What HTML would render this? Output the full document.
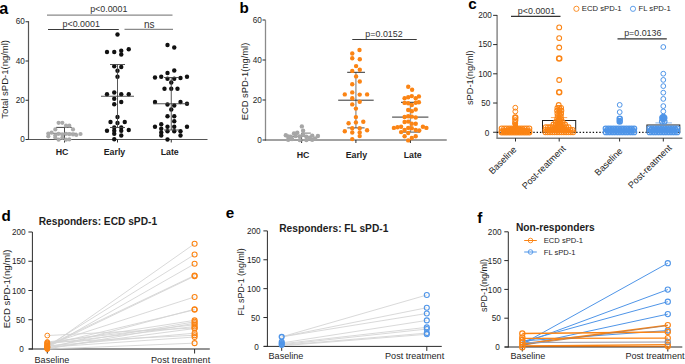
<!DOCTYPE html>
<html><head><meta charset="utf-8"><style>
html,body{margin:0;padding:0;background:#fff;width:685px;height:364px;overflow:hidden}
svg{display:block}
text{font-family:"Liberation Sans", sans-serif}
</style></head><body>
<svg width="685" height="364" viewBox="0 0 685 364">
<text x="-0.80" y="14.10" font-size="16.2" text-anchor="start" font-weight="bold" fill="#000" >a</text>
<line x1="28.50" y1="21.20" x2="28.50" y2="140.00" stroke="#555" stroke-width="1.2" />
<line x1="28.00" y1="139.50" x2="207.50" y2="139.50" stroke="#555" stroke-width="1.2" />
<line x1="25.50" y1="139.50" x2="28.50" y2="139.50" stroke="#2b2b2b" stroke-width="1" />
<text x="24.90" y="142.10" font-size="8.2" text-anchor="end" font-weight="normal" fill="#1e1e1e" >0</text>
<line x1="25.50" y1="100.25" x2="28.50" y2="100.25" stroke="#2b2b2b" stroke-width="1" />
<text x="24.90" y="102.85" font-size="8.2" text-anchor="end" font-weight="normal" fill="#1e1e1e" >20</text>
<line x1="25.50" y1="61.00" x2="28.50" y2="61.00" stroke="#2b2b2b" stroke-width="1" />
<text x="24.90" y="63.60" font-size="8.2" text-anchor="end" font-weight="normal" fill="#1e1e1e" >40</text>
<line x1="25.50" y1="21.75" x2="28.50" y2="21.75" stroke="#2b2b2b" stroke-width="1" />
<text x="24.90" y="24.35" font-size="8.2" text-anchor="end" font-weight="normal" fill="#1e1e1e" >60</text>
<line x1="64.50" y1="139.50" x2="64.50" y2="142.50" stroke="#2b2b2b" stroke-width="1" />
<line x1="117.50" y1="139.50" x2="117.50" y2="142.50" stroke="#2b2b2b" stroke-width="1" />
<line x1="171.25" y1="139.50" x2="171.25" y2="142.50" stroke="#2b2b2b" stroke-width="1" />
<text x="8.30" y="79.30" font-size="9.5" text-anchor="middle" fill="#1e1e1e" transform="rotate(-90 8.30 79.30)">Total sPD-1(ng/ml)</text>
<text x="62.10" y="155.00" font-size="8.8" text-anchor="middle" font-weight="bold" fill="#1e1e1e" >HC</text>
<text x="114.50" y="155.00" font-size="8.8" text-anchor="middle" font-weight="bold" fill="#1e1e1e" >Early</text>
<text x="169.70" y="155.00" font-size="8.8" text-anchor="middle" font-weight="bold" fill="#1e1e1e" >Late</text>
<line x1="47.00" y1="15.20" x2="172.50" y2="15.20" stroke="#8a8a8a" stroke-width="1.2" />
<text x="108.80" y="12.30" font-size="8.9" text-anchor="middle" font-weight="normal" fill="#333" >p&lt;0.0001</text>
<line x1="48.00" y1="29.50" x2="118.80" y2="29.50" stroke="#3a3a3a" stroke-width="1.2" />
<text x="81.20" y="26.80" font-size="8.9" text-anchor="middle" font-weight="normal" fill="#333" >p&lt;0.0001</text>
<line x1="124.50" y1="29.30" x2="173.00" y2="29.30" stroke="#8a8a8a" stroke-width="1.2" />
<text x="149.30" y="27.80" font-size="10" text-anchor="middle" font-weight="normal" fill="#333" >ns</text>
<line x1="64.50" y1="127.40" x2="64.50" y2="140.50" stroke="#444" stroke-width="1" />
<line x1="56.10" y1="127.40" x2="71.80" y2="127.40" stroke="#444" stroke-width="1" />
<line x1="53.00" y1="133.30" x2="77.00" y2="133.30" stroke="#555" stroke-width="0.9" />
<circle cx="58.60" cy="122.80" r="2.1" fill="#aaaaaa"/>
<circle cx="62.30" cy="122.80" r="2.1" fill="#aaaaaa"/>
<circle cx="66.00" cy="125.70" r="2.1" fill="#aaaaaa"/>
<circle cx="69.30" cy="125.70" r="2.1" fill="#aaaaaa"/>
<circle cx="55.30" cy="129.40" r="2.1" fill="#aaaaaa"/>
<circle cx="73.00" cy="129.40" r="2.1" fill="#aaaaaa"/>
<circle cx="48.30" cy="133.60" r="2.1" fill="#aaaaaa"/>
<circle cx="51.60" cy="132.70" r="2.1" fill="#aaaaaa"/>
<circle cx="48.30" cy="136.30" r="2.1" fill="#aaaaaa"/>
<circle cx="55.30" cy="135.30" r="2.1" fill="#aaaaaa"/>
<circle cx="58.60" cy="133.80" r="2.1" fill="#aaaaaa"/>
<circle cx="62.30" cy="134.60" r="2.1" fill="#aaaaaa"/>
<circle cx="66.00" cy="133.80" r="2.1" fill="#aaaaaa"/>
<circle cx="69.30" cy="134.20" r="2.1" fill="#aaaaaa"/>
<circle cx="73.00" cy="134.40" r="2.1" fill="#aaaaaa"/>
<circle cx="76.30" cy="135.00" r="2.1" fill="#aaaaaa"/>
<circle cx="80.50" cy="134.00" r="2.1" fill="#aaaaaa"/>
<circle cx="58.60" cy="139.70" r="2.1" fill="#aaaaaa"/>
<circle cx="62.30" cy="137.80" r="2.1" fill="#aaaaaa"/>
<circle cx="66.00" cy="139.70" r="2.1" fill="#aaaaaa"/>
<circle cx="69.30" cy="139.40" r="2.1" fill="#aaaaaa"/>
<circle cx="55.30" cy="137.50" r="2.1" fill="#aaaaaa"/>
<circle cx="117.50" cy="34.50" r="2.2" fill="#111"/>
<circle cx="107.00" cy="52.00" r="2.2" fill="#111"/>
<circle cx="114.25" cy="52.00" r="2.2" fill="#111"/>
<circle cx="121.25" cy="50.75" r="2.2" fill="#111"/>
<circle cx="121.25" cy="54.50" r="2.2" fill="#111"/>
<circle cx="128.75" cy="49.25" r="2.2" fill="#111"/>
<circle cx="114.25" cy="66.25" r="2.2" fill="#111"/>
<circle cx="121.25" cy="67.00" r="2.2" fill="#111"/>
<circle cx="117.50" cy="70.75" r="2.2" fill="#111"/>
<circle cx="117.50" cy="76.75" r="2.2" fill="#111"/>
<circle cx="107.00" cy="94.25" r="2.2" fill="#111"/>
<circle cx="114.25" cy="92.50" r="2.2" fill="#111"/>
<circle cx="121.25" cy="94.25" r="2.2" fill="#111"/>
<circle cx="128.75" cy="94.25" r="2.2" fill="#111"/>
<circle cx="114.25" cy="98.75" r="2.2" fill="#111"/>
<circle cx="114.25" cy="104.25" r="2.2" fill="#111"/>
<circle cx="121.25" cy="102.00" r="2.2" fill="#111"/>
<circle cx="117.50" cy="117.00" r="2.2" fill="#111"/>
<circle cx="110.50" cy="122.00" r="2.2" fill="#111"/>
<circle cx="117.50" cy="123.00" r="2.2" fill="#111"/>
<circle cx="124.75" cy="122.00" r="2.2" fill="#111"/>
<circle cx="114.25" cy="127.50" r="2.2" fill="#111"/>
<circle cx="121.25" cy="127.50" r="2.2" fill="#111"/>
<circle cx="107.00" cy="130.75" r="2.2" fill="#111"/>
<circle cx="114.25" cy="130.75" r="2.2" fill="#111"/>
<circle cx="121.25" cy="130.75" r="2.2" fill="#111"/>
<circle cx="128.75" cy="130.00" r="2.2" fill="#111"/>
<circle cx="114.25" cy="133.75" r="2.2" fill="#111"/>
<circle cx="121.25" cy="135.50" r="2.2" fill="#111"/>
<circle cx="114.25" cy="139.25" r="2.2" fill="#111"/>
<line x1="117.50" y1="64.50" x2="117.50" y2="127.50" stroke="#444" stroke-width="0.9" />
<line x1="110.00" y1="64.50" x2="125.00" y2="64.50" stroke="#444" stroke-width="0.9" />
<line x1="101.00" y1="96.25" x2="134.00" y2="96.25" stroke="#444" stroke-width="0.9" />
<line x1="110.00" y1="127.50" x2="125.00" y2="127.50" stroke="#444" stroke-width="0.9" />
<circle cx="167.50" cy="45.00" r="2.2" fill="#111"/>
<circle cx="174.25" cy="47.50" r="2.2" fill="#111"/>
<circle cx="167.50" cy="73.00" r="2.2" fill="#111"/>
<circle cx="174.25" cy="70.50" r="2.2" fill="#111"/>
<circle cx="155.00" cy="77.50" r="2.2" fill="#111"/>
<circle cx="161.25" cy="76.75" r="2.2" fill="#111"/>
<circle cx="167.50" cy="78.75" r="2.2" fill="#111"/>
<circle cx="174.25" cy="78.75" r="2.2" fill="#111"/>
<circle cx="180.50" cy="78.00" r="2.2" fill="#111"/>
<circle cx="187.00" cy="76.75" r="2.2" fill="#111"/>
<circle cx="171.25" cy="82.50" r="2.2" fill="#111"/>
<circle cx="164.50" cy="88.75" r="2.2" fill="#111"/>
<circle cx="171.25" cy="88.75" r="2.2" fill="#111"/>
<circle cx="177.50" cy="88.75" r="2.2" fill="#111"/>
<circle cx="155.00" cy="102.00" r="2.2" fill="#111"/>
<circle cx="167.50" cy="104.50" r="2.2" fill="#111"/>
<circle cx="174.25" cy="105.50" r="2.2" fill="#111"/>
<circle cx="180.50" cy="102.00" r="2.2" fill="#111"/>
<circle cx="187.00" cy="103.75" r="2.2" fill="#111"/>
<circle cx="171.25" cy="109.50" r="2.2" fill="#111"/>
<circle cx="167.50" cy="116.25" r="2.2" fill="#111"/>
<circle cx="174.25" cy="116.25" r="2.2" fill="#111"/>
<circle cx="174.25" cy="121.25" r="2.2" fill="#111"/>
<circle cx="155.00" cy="126.75" r="2.2" fill="#111"/>
<circle cx="161.25" cy="124.25" r="2.2" fill="#111"/>
<circle cx="161.25" cy="128.75" r="2.2" fill="#111"/>
<circle cx="167.50" cy="126.75" r="2.2" fill="#111"/>
<circle cx="174.25" cy="126.75" r="2.2" fill="#111"/>
<circle cx="187.00" cy="126.75" r="2.2" fill="#111"/>
<circle cx="161.25" cy="132.50" r="2.2" fill="#111"/>
<circle cx="167.50" cy="131.25" r="2.2" fill="#111"/>
<circle cx="174.25" cy="131.25" r="2.2" fill="#111"/>
<circle cx="180.50" cy="131.25" r="2.2" fill="#111"/>
<circle cx="161.25" cy="135.50" r="2.2" fill="#111"/>
<circle cx="180.50" cy="135.50" r="2.2" fill="#111"/>
<circle cx="167.50" cy="139.50" r="2.2" fill="#111"/>
<line x1="171.25" y1="77.50" x2="171.25" y2="130.00" stroke="#444" stroke-width="0.9" />
<line x1="164.00" y1="77.50" x2="179.00" y2="77.50" stroke="#444" stroke-width="0.9" />
<line x1="153.00" y1="103.75" x2="189.00" y2="103.75" stroke="#444" stroke-width="0.9" />
<line x1="164.00" y1="130.00" x2="179.00" y2="130.00" stroke="#444" stroke-width="0.9" />
<text x="239.40" y="13.10" font-size="15.2" text-anchor="start" font-weight="bold" fill="#000" >b</text>
<line x1="265.50" y1="20.30" x2="265.50" y2="140.50" stroke="#8a8a8a" stroke-width="1.3" />
<line x1="265.00" y1="140.00" x2="446.75" y2="140.00" stroke="#444" stroke-width="1.2" />
<line x1="262.50" y1="140.00" x2="265.50" y2="140.00" stroke="#2b2b2b" stroke-width="1" />
<text x="261.90" y="142.60" font-size="8.2" text-anchor="end" font-weight="normal" fill="#1e1e1e" >0</text>
<line x1="262.50" y1="100.00" x2="265.50" y2="100.00" stroke="#2b2b2b" stroke-width="1" />
<text x="261.90" y="102.60" font-size="8.2" text-anchor="end" font-weight="normal" fill="#1e1e1e" >20</text>
<line x1="262.50" y1="60.00" x2="265.50" y2="60.00" stroke="#2b2b2b" stroke-width="1" />
<text x="261.90" y="62.60" font-size="8.2" text-anchor="end" font-weight="normal" fill="#1e1e1e" >40</text>
<line x1="262.50" y1="20.00" x2="265.50" y2="20.00" stroke="#2b2b2b" stroke-width="1" />
<text x="261.90" y="22.60" font-size="8.2" text-anchor="end" font-weight="normal" fill="#1e1e1e" >60</text>
<line x1="301.60" y1="140.00" x2="301.60" y2="143.00" stroke="#2b2b2b" stroke-width="1" />
<line x1="355.90" y1="140.00" x2="355.90" y2="143.00" stroke="#2b2b2b" stroke-width="1" />
<line x1="410.40" y1="140.00" x2="410.40" y2="143.00" stroke="#2b2b2b" stroke-width="1" />
<text x="247.50" y="81.50" font-size="9.4" text-anchor="middle" fill="#1e1e1e" transform="rotate(-90 247.50 81.50)">ECD sPD-1(ng/ml)</text>
<text x="303.00" y="157.50" font-size="8.8" text-anchor="middle" font-weight="bold" fill="#1e1e1e" >HC</text>
<text x="356.40" y="157.50" font-size="8.8" text-anchor="middle" font-weight="bold" fill="#1e1e1e" >Early</text>
<text x="412.70" y="157.50" font-size="8.8" text-anchor="middle" font-weight="bold" fill="#1e1e1e" >Late</text>
<line x1="352.25" y1="39.50" x2="416.75" y2="39.50" stroke="#3a3a3a" stroke-width="1.2" />
<text x="384.00" y="37.00" font-size="8.9" text-anchor="middle" font-weight="normal" fill="#333" >p=0.0152</text>
<line x1="301.60" y1="133.10" x2="301.60" y2="142.00" stroke="#444" stroke-width="1" />
<line x1="301.60" y1="133.10" x2="310.80" y2="133.10" stroke="#666" stroke-width="0.9" />
<line x1="290.00" y1="136.50" x2="314.00" y2="136.50" stroke="#777" stroke-width="0.9" />
<circle cx="301.85" cy="126.40" r="2.2" fill="#a6a6a6"/>
<circle cx="303.10" cy="130.70" r="2.2" fill="#a6a6a6"/>
<circle cx="285.80" cy="135.20" r="2.2" fill="#a6a6a6"/>
<circle cx="288.20" cy="139.70" r="2.2" fill="#a6a6a6"/>
<circle cx="294.00" cy="133.50" r="2.2" fill="#a6a6a6"/>
<circle cx="297.30" cy="132.70" r="2.2" fill="#a6a6a6"/>
<circle cx="295.70" cy="136.00" r="2.2" fill="#a6a6a6"/>
<circle cx="299.80" cy="136.40" r="2.2" fill="#a6a6a6"/>
<circle cx="299.80" cy="140.10" r="2.2" fill="#a6a6a6"/>
<circle cx="303.10" cy="134.80" r="2.2" fill="#a6a6a6"/>
<circle cx="306.40" cy="136.80" r="2.2" fill="#a6a6a6"/>
<circle cx="306.40" cy="140.10" r="2.2" fill="#a6a6a6"/>
<circle cx="309.70" cy="137.70" r="2.2" fill="#a6a6a6"/>
<circle cx="312.20" cy="135.60" r="2.2" fill="#a6a6a6"/>
<circle cx="312.20" cy="139.70" r="2.2" fill="#a6a6a6"/>
<circle cx="317.90" cy="136.00" r="2.2" fill="#a6a6a6"/>
<circle cx="290.70" cy="136.80" r="2.2" fill="#a6a6a6"/>
<circle cx="288.20" cy="136.40" r="2.2" fill="#a6a6a6"/>
<circle cx="292.00" cy="139.00" r="2.2" fill="#a6a6a6"/>
<circle cx="315.00" cy="138.50" r="2.2" fill="#a6a6a6"/>
<line x1="355.90" y1="72.30" x2="355.90" y2="127.90" stroke="#9a9a9a" stroke-width="1.4" />
<line x1="347.20" y1="72.30" x2="365.00" y2="72.30" stroke="#333" stroke-width="1" />
<line x1="338.20" y1="100.20" x2="373.70" y2="100.20" stroke="#333" stroke-width="1" />
<line x1="347.30" y1="127.90" x2="364.60" y2="127.90" stroke="#555" stroke-width="1" />
<circle cx="359.50" cy="50.00" r="2.2" fill="#FB8414"/>
<circle cx="352.25" cy="53.50" r="2.2" fill="#FB8414"/>
<circle cx="352.25" cy="58.25" r="2.2" fill="#FB8414"/>
<circle cx="359.80" cy="59.20" r="2.2" fill="#FB8414"/>
<circle cx="356.10" cy="66.10" r="2.2" fill="#FB8414"/>
<circle cx="352.25" cy="70.90" r="2.2" fill="#FB8414"/>
<circle cx="359.80" cy="69.80" r="2.2" fill="#FB8414"/>
<circle cx="356.10" cy="76.40" r="2.2" fill="#FB8414"/>
<circle cx="359.80" cy="81.50" r="2.2" fill="#FB8414"/>
<circle cx="352.25" cy="84.20" r="2.2" fill="#FB8414"/>
<circle cx="344.80" cy="94.40" r="2.2" fill="#FB8414"/>
<circle cx="352.25" cy="92.40" r="2.2" fill="#FB8414"/>
<circle cx="359.70" cy="94.60" r="2.2" fill="#FB8414"/>
<circle cx="367.10" cy="94.40" r="2.2" fill="#FB8414"/>
<circle cx="352.25" cy="98.20" r="2.2" fill="#FB8414"/>
<circle cx="359.70" cy="101.80" r="2.2" fill="#FB8414"/>
<circle cx="352.25" cy="104.40" r="2.2" fill="#FB8414"/>
<circle cx="355.90" cy="108.60" r="2.2" fill="#FB8414"/>
<circle cx="355.90" cy="117.10" r="2.2" fill="#FB8414"/>
<circle cx="348.60" cy="123.20" r="2.2" fill="#FB8414"/>
<circle cx="355.90" cy="122.40" r="2.2" fill="#FB8414"/>
<circle cx="363.30" cy="121.80" r="2.2" fill="#FB8414"/>
<circle cx="352.25" cy="128.20" r="2.2" fill="#FB8414"/>
<circle cx="359.70" cy="128.20" r="2.2" fill="#FB8414"/>
<circle cx="344.80" cy="131.20" r="2.2" fill="#FB8414"/>
<circle cx="352.25" cy="132.50" r="2.2" fill="#FB8414"/>
<circle cx="359.70" cy="132.50" r="2.2" fill="#FB8414"/>
<circle cx="367.10" cy="130.30" r="2.2" fill="#FB8414"/>
<circle cx="359.70" cy="136.10" r="2.2" fill="#FB8414"/>
<circle cx="352.25" cy="139.10" r="2.2" fill="#FB8414"/>
<line x1="410.40" y1="102.30" x2="410.40" y2="132.10" stroke="#9a9a9a" stroke-width="1.4" />
<line x1="401.00" y1="102.30" x2="419.00" y2="102.30" stroke="#333" stroke-width="1" />
<line x1="392.10" y1="117.10" x2="428.40" y2="117.10" stroke="#333" stroke-width="1" />
<line x1="402.00" y1="132.10" x2="420.00" y2="132.10" stroke="#555" stroke-width="1" />
<circle cx="408.20" cy="86.80" r="2.2" fill="#FB8414"/>
<circle cx="412.10" cy="89.80" r="2.2" fill="#FB8414"/>
<circle cx="404.60" cy="98.20" r="2.2" fill="#FB8414"/>
<circle cx="408.20" cy="97.30" r="2.2" fill="#FB8414"/>
<circle cx="411.80" cy="96.10" r="2.2" fill="#FB8414"/>
<circle cx="415.70" cy="98.20" r="2.2" fill="#FB8414"/>
<circle cx="418.90" cy="96.40" r="2.2" fill="#FB8414"/>
<circle cx="404.60" cy="102.90" r="2.2" fill="#FB8414"/>
<circle cx="408.20" cy="103.20" r="2.2" fill="#FB8414"/>
<circle cx="411.80" cy="105.00" r="2.2" fill="#FB8414"/>
<circle cx="415.70" cy="102.70" r="2.2" fill="#FB8414"/>
<circle cx="418.90" cy="102.30" r="2.2" fill="#FB8414"/>
<circle cx="408.20" cy="110.00" r="2.2" fill="#FB8414"/>
<circle cx="411.80" cy="111.25" r="2.2" fill="#FB8414"/>
<circle cx="415.70" cy="109.50" r="2.2" fill="#FB8414"/>
<circle cx="404.60" cy="117.00" r="2.2" fill="#FB8414"/>
<circle cx="408.20" cy="116.25" r="2.2" fill="#FB8414"/>
<circle cx="411.80" cy="116.60" r="2.2" fill="#FB8414"/>
<circle cx="415.70" cy="117.50" r="2.2" fill="#FB8414"/>
<circle cx="404.60" cy="122.00" r="2.2" fill="#FB8414"/>
<circle cx="408.20" cy="121.60" r="2.2" fill="#FB8414"/>
<circle cx="411.80" cy="123.75" r="2.2" fill="#FB8414"/>
<circle cx="415.70" cy="123.75" r="2.2" fill="#FB8414"/>
<circle cx="393.90" cy="127.90" r="2.2" fill="#FB8414"/>
<circle cx="397.50" cy="127.30" r="2.2" fill="#FB8414"/>
<circle cx="401.10" cy="126.80" r="2.2" fill="#FB8414"/>
<circle cx="408.20" cy="127.90" r="2.2" fill="#FB8414"/>
<circle cx="404.60" cy="130.00" r="2.2" fill="#FB8414"/>
<circle cx="411.80" cy="128.20" r="2.2" fill="#FB8414"/>
<circle cx="415.70" cy="130.00" r="2.2" fill="#FB8414"/>
<circle cx="419.30" cy="130.50" r="2.2" fill="#FB8414"/>
<circle cx="422.90" cy="126.80" r="2.2" fill="#FB8414"/>
<circle cx="426.40" cy="127.90" r="2.2" fill="#FB8414"/>
<circle cx="401.10" cy="132.10" r="2.2" fill="#FB8414"/>
<circle cx="408.20" cy="133.00" r="2.2" fill="#FB8414"/>
<circle cx="404.60" cy="136.25" r="2.2" fill="#FB8414"/>
<circle cx="411.80" cy="138.00" r="2.2" fill="#FB8414"/>
<circle cx="415.70" cy="136.25" r="2.2" fill="#FB8414"/>
<circle cx="408.20" cy="140.40" r="2.2" fill="#FB8414"/>
<text x="468.30" y="8.60" font-size="15.2" text-anchor="start" font-weight="bold" fill="#000" >c</text>
<line x1="497.10" y1="15.00" x2="497.10" y2="138.80" stroke="#808080" stroke-width="1.4" />
<line x1="496.60" y1="138.20" x2="682.40" y2="138.20" stroke="#808080" stroke-width="1.4" />
<line x1="493.10" y1="132.25" x2="497.10" y2="132.25" stroke="#2b2b2b" stroke-width="1" />
<text x="489.20" y="135.85" font-size="8.2" text-anchor="end" font-weight="normal" fill="#1e1e1e" >0</text>
<line x1="493.10" y1="103.03" x2="497.10" y2="103.03" stroke="#2b2b2b" stroke-width="1" />
<text x="490.40" y="106.23" font-size="8.2" text-anchor="end" font-weight="normal" fill="#1e1e1e" >50</text>
<line x1="493.10" y1="73.80" x2="497.10" y2="73.80" stroke="#2b2b2b" stroke-width="1" />
<text x="491.90" y="76.70" font-size="8.2" text-anchor="end" font-weight="normal" fill="#1e1e1e" >100</text>
<line x1="493.10" y1="44.58" x2="497.10" y2="44.58" stroke="#2b2b2b" stroke-width="1" />
<text x="491.90" y="47.48" font-size="8.2" text-anchor="end" font-weight="normal" fill="#1e1e1e" >150</text>
<line x1="493.10" y1="15.35" x2="497.10" y2="15.35" stroke="#2b2b2b" stroke-width="1" />
<text x="491.90" y="18.25" font-size="8.2" text-anchor="end" font-weight="normal" fill="#1e1e1e" >200</text>
<line x1="515.50" y1="138.20" x2="515.50" y2="141.50" stroke="#2b2b2b" stroke-width="1" />
<line x1="559.20" y1="138.20" x2="559.20" y2="141.50" stroke="#2b2b2b" stroke-width="1" />
<line x1="619.60" y1="138.20" x2="619.60" y2="141.50" stroke="#2b2b2b" stroke-width="1" />
<line x1="663.30" y1="138.20" x2="663.30" y2="141.50" stroke="#2b2b2b" stroke-width="1" />
<text x="473.20" y="77.70" font-size="9.3" text-anchor="middle" fill="#1e1e1e" transform="rotate(-90 473.20 77.70)">sPD-1(ng/ml)</text>
<circle cx="576.40" cy="8.80" r="2.6" fill="none" stroke="#FB8414" stroke-width="0.9"/>
<text x="581.80" y="11.20" font-size="7.7" text-anchor="start" font-weight="normal" fill="#1e1e1e" >ECD sPD-1</text>
<circle cx="633.00" cy="8.80" r="2.6" fill="none" stroke="#4F95E8" stroke-width="0.9"/>
<text x="638.50" y="11.20" font-size="7.7" text-anchor="start" font-weight="normal" fill="#1e1e1e" >FL sPD-1</text>
<line x1="511.00" y1="16.40" x2="560.50" y2="16.40" stroke="#333" stroke-width="1.2" />
<text x="536.50" y="13.60" font-size="8.9" text-anchor="middle" font-weight="normal" fill="#333" >p&lt;0.0001</text>
<line x1="617.50" y1="38.90" x2="666.80" y2="38.90" stroke="#333" stroke-width="1.2" />
<text x="642.80" y="36.20" font-size="8.9" text-anchor="middle" font-weight="normal" fill="#333" >p=0.0136</text>
<line x1="497" y1="132.3" x2="681" y2="132.3" stroke="#111" stroke-width="1.3" stroke-dasharray="1.4 1.9"/>
<rect x="542.5" y="120.5" width="33.2" height="11.8" fill="none" stroke="#222" stroke-width="1"/>
<rect x="646.9" y="125" width="32.9" height="7.3" fill="none" stroke="#222" stroke-width="1"/>
<path d="M501.00,129.00 L513.00,126.00 L513.00,123.00 L518.00,123.00 L518.00,126.00 L530.00,129.00 L530.00,133.00 L501.00,133.00 Z" fill="#FB8414"/>
<circle cx="515.30" cy="107.70" r="2.4" fill="none" stroke="#FB8414" stroke-width="1.0"/>
<circle cx="515.30" cy="111.50" r="2.4" fill="none" stroke="#FB8414" stroke-width="1.0"/>
<circle cx="515.30" cy="117.50" r="2.4" fill="none" stroke="#FB8414" stroke-width="1.6"/>
<circle cx="515.30" cy="120.30" r="2.4" fill="none" stroke="#FB8414" stroke-width="1.4"/>
<circle cx="515.10" cy="123.20" r="2.5" fill="none" stroke="#FB8414" stroke-width="1.1"/>
<circle cx="501.70" cy="128.50" r="2.5" fill="none" stroke="#FB8414" stroke-width="1.1"/>
<circle cx="504.21" cy="128.50" r="2.5" fill="none" stroke="#FB8414" stroke-width="1.1"/>
<circle cx="506.72" cy="128.50" r="2.5" fill="none" stroke="#FB8414" stroke-width="1.1"/>
<circle cx="509.23" cy="128.50" r="2.5" fill="none" stroke="#FB8414" stroke-width="1.1"/>
<circle cx="511.74" cy="128.50" r="2.5" fill="none" stroke="#FB8414" stroke-width="1.1"/>
<circle cx="514.25" cy="128.50" r="2.5" fill="none" stroke="#FB8414" stroke-width="1.1"/>
<circle cx="516.75" cy="128.50" r="2.5" fill="none" stroke="#FB8414" stroke-width="1.1"/>
<circle cx="519.26" cy="128.50" r="2.5" fill="none" stroke="#FB8414" stroke-width="1.1"/>
<circle cx="521.77" cy="128.50" r="2.5" fill="none" stroke="#FB8414" stroke-width="1.1"/>
<circle cx="524.28" cy="128.50" r="2.5" fill="none" stroke="#FB8414" stroke-width="1.1"/>
<circle cx="526.79" cy="128.50" r="2.5" fill="none" stroke="#FB8414" stroke-width="1.1"/>
<circle cx="529.30" cy="128.50" r="2.5" fill="none" stroke="#FB8414" stroke-width="1.1"/>
<circle cx="501.70" cy="131.20" r="2.5" fill="none" stroke="#FB8414" stroke-width="1.1"/>
<circle cx="504.21" cy="131.20" r="2.5" fill="none" stroke="#FB8414" stroke-width="1.1"/>
<circle cx="506.72" cy="131.20" r="2.5" fill="none" stroke="#FB8414" stroke-width="1.1"/>
<circle cx="509.23" cy="131.20" r="2.5" fill="none" stroke="#FB8414" stroke-width="1.1"/>
<circle cx="511.74" cy="131.20" r="2.5" fill="none" stroke="#FB8414" stroke-width="1.1"/>
<circle cx="514.25" cy="131.20" r="2.5" fill="none" stroke="#FB8414" stroke-width="1.1"/>
<circle cx="516.75" cy="131.20" r="2.5" fill="none" stroke="#FB8414" stroke-width="1.1"/>
<circle cx="519.26" cy="131.20" r="2.5" fill="none" stroke="#FB8414" stroke-width="1.1"/>
<circle cx="521.77" cy="131.20" r="2.5" fill="none" stroke="#FB8414" stroke-width="1.1"/>
<circle cx="524.28" cy="131.20" r="2.5" fill="none" stroke="#FB8414" stroke-width="1.1"/>
<circle cx="526.79" cy="131.20" r="2.5" fill="none" stroke="#FB8414" stroke-width="1.1"/>
<circle cx="529.30" cy="131.20" r="2.5" fill="none" stroke="#FB8414" stroke-width="1.1"/>
<circle cx="501.70" cy="132.40" r="2.5" fill="none" stroke="#FB8414" stroke-width="1.1"/>
<circle cx="504.21" cy="132.40" r="2.5" fill="none" stroke="#FB8414" stroke-width="1.1"/>
<circle cx="506.72" cy="132.40" r="2.5" fill="none" stroke="#FB8414" stroke-width="1.1"/>
<circle cx="509.23" cy="132.40" r="2.5" fill="none" stroke="#FB8414" stroke-width="1.1"/>
<circle cx="511.74" cy="132.40" r="2.5" fill="none" stroke="#FB8414" stroke-width="1.1"/>
<circle cx="514.25" cy="132.40" r="2.5" fill="none" stroke="#FB8414" stroke-width="1.1"/>
<circle cx="516.75" cy="132.40" r="2.5" fill="none" stroke="#FB8414" stroke-width="1.1"/>
<circle cx="519.26" cy="132.40" r="2.5" fill="none" stroke="#FB8414" stroke-width="1.1"/>
<circle cx="521.77" cy="132.40" r="2.5" fill="none" stroke="#FB8414" stroke-width="1.1"/>
<circle cx="524.28" cy="132.40" r="2.5" fill="none" stroke="#FB8414" stroke-width="1.1"/>
<circle cx="526.79" cy="132.40" r="2.5" fill="none" stroke="#FB8414" stroke-width="1.1"/>
<circle cx="529.30" cy="132.40" r="2.5" fill="none" stroke="#FB8414" stroke-width="1.1"/>
<circle cx="559.20" cy="27.40" r="2.4" fill="none" stroke="#FB8414" stroke-width="1.1"/>
<circle cx="559.20" cy="38.10" r="2.4" fill="none" stroke="#FB8414" stroke-width="1.1"/>
<circle cx="559.20" cy="47.50" r="2.4" fill="none" stroke="#FB8414" stroke-width="1.1"/>
<circle cx="559.20" cy="80.00" r="2.4" fill="none" stroke="#FB8414" stroke-width="1.1"/>
<circle cx="559.20" cy="58.50" r="2.5" fill="none" stroke="#FB8414" stroke-width="1.6"/>
<circle cx="559.20" cy="92.30" r="2.5" fill="none" stroke="#FB8414" stroke-width="1.5"/>
<line x1="550.90" y1="117.60" x2="567.20" y2="117.60" stroke="#F9A860" stroke-width="1" />
<path d="M557.50,108.00 L560.50,108.00 L561.00,121.00 L563.00,125.00 L570.00,130.00 L570.00,133.00 L547.00,133.00 L547.00,130.00 L556.00,125.00 L557.00,121.00 Z" fill="#FB8414"/>
<circle cx="558.70" cy="105.00" r="2.4" fill="none" stroke="#FB8414" stroke-width="1.05"/>
<circle cx="557.40" cy="107.80" r="2.4" fill="none" stroke="#FB8414" stroke-width="1.05"/>
<circle cx="559.25" cy="107.80" r="2.4" fill="none" stroke="#FB8414" stroke-width="1.05"/>
<circle cx="561.10" cy="107.80" r="2.4" fill="none" stroke="#FB8414" stroke-width="1.05"/>
<circle cx="557.10" cy="110.60" r="2.4" fill="none" stroke="#FB8414" stroke-width="1.05"/>
<circle cx="559.25" cy="110.60" r="2.4" fill="none" stroke="#FB8414" stroke-width="1.05"/>
<circle cx="561.40" cy="110.60" r="2.4" fill="none" stroke="#FB8414" stroke-width="1.05"/>
<circle cx="557.40" cy="113.40" r="2.4" fill="none" stroke="#FB8414" stroke-width="1.05"/>
<circle cx="559.25" cy="113.40" r="2.4" fill="none" stroke="#FB8414" stroke-width="1.05"/>
<circle cx="561.10" cy="113.40" r="2.4" fill="none" stroke="#FB8414" stroke-width="1.05"/>
<circle cx="557.60" cy="116.20" r="2.4" fill="none" stroke="#FB8414" stroke-width="1.05"/>
<circle cx="560.80" cy="116.20" r="2.4" fill="none" stroke="#FB8414" stroke-width="1.05"/>
<circle cx="557.20" cy="119.00" r="2.4" fill="none" stroke="#FB8414" stroke-width="1.05"/>
<circle cx="559.20" cy="119.00" r="2.4" fill="none" stroke="#FB8414" stroke-width="1.05"/>
<circle cx="561.20" cy="119.00" r="2.4" fill="none" stroke="#FB8414" stroke-width="1.05"/>
<circle cx="555.90" cy="121.80" r="2.4" fill="none" stroke="#FB8414" stroke-width="1.05"/>
<circle cx="558.13" cy="121.80" r="2.4" fill="none" stroke="#FB8414" stroke-width="1.05"/>
<circle cx="560.37" cy="121.80" r="2.4" fill="none" stroke="#FB8414" stroke-width="1.05"/>
<circle cx="562.60" cy="121.80" r="2.4" fill="none" stroke="#FB8414" stroke-width="1.05"/>
<circle cx="553.40" cy="124.50" r="2.4" fill="none" stroke="#FB8414" stroke-width="1.05"/>
<circle cx="555.74" cy="124.50" r="2.4" fill="none" stroke="#FB8414" stroke-width="1.05"/>
<circle cx="558.08" cy="124.50" r="2.4" fill="none" stroke="#FB8414" stroke-width="1.05"/>
<circle cx="560.42" cy="124.50" r="2.4" fill="none" stroke="#FB8414" stroke-width="1.05"/>
<circle cx="562.76" cy="124.50" r="2.4" fill="none" stroke="#FB8414" stroke-width="1.05"/>
<circle cx="565.10" cy="124.50" r="2.4" fill="none" stroke="#FB8414" stroke-width="1.05"/>
<circle cx="545.70" cy="127.20" r="2.4" fill="none" stroke="#FB8414" stroke-width="1.05"/>
<circle cx="547.99" cy="127.20" r="2.4" fill="none" stroke="#FB8414" stroke-width="1.05"/>
<circle cx="550.28" cy="127.20" r="2.4" fill="none" stroke="#FB8414" stroke-width="1.05"/>
<circle cx="552.57" cy="127.20" r="2.4" fill="none" stroke="#FB8414" stroke-width="1.05"/>
<circle cx="554.86" cy="127.20" r="2.4" fill="none" stroke="#FB8414" stroke-width="1.05"/>
<circle cx="557.15" cy="127.20" r="2.4" fill="none" stroke="#FB8414" stroke-width="1.05"/>
<circle cx="559.44" cy="127.20" r="2.4" fill="none" stroke="#FB8414" stroke-width="1.05"/>
<circle cx="561.73" cy="127.20" r="2.4" fill="none" stroke="#FB8414" stroke-width="1.05"/>
<circle cx="564.02" cy="127.20" r="2.4" fill="none" stroke="#FB8414" stroke-width="1.05"/>
<circle cx="566.31" cy="127.20" r="2.4" fill="none" stroke="#FB8414" stroke-width="1.05"/>
<circle cx="568.60" cy="127.20" r="2.4" fill="none" stroke="#FB8414" stroke-width="1.05"/>
<circle cx="545.40" cy="129.80" r="2.4" fill="none" stroke="#FB8414" stroke-width="1.05"/>
<circle cx="547.67" cy="129.80" r="2.4" fill="none" stroke="#FB8414" stroke-width="1.05"/>
<circle cx="549.93" cy="129.80" r="2.4" fill="none" stroke="#FB8414" stroke-width="1.05"/>
<circle cx="552.20" cy="129.80" r="2.4" fill="none" stroke="#FB8414" stroke-width="1.05"/>
<circle cx="554.47" cy="129.80" r="2.4" fill="none" stroke="#FB8414" stroke-width="1.05"/>
<circle cx="556.73" cy="129.80" r="2.4" fill="none" stroke="#FB8414" stroke-width="1.05"/>
<circle cx="559.00" cy="129.80" r="2.4" fill="none" stroke="#FB8414" stroke-width="1.05"/>
<circle cx="561.27" cy="129.80" r="2.4" fill="none" stroke="#FB8414" stroke-width="1.05"/>
<circle cx="563.53" cy="129.80" r="2.4" fill="none" stroke="#FB8414" stroke-width="1.05"/>
<circle cx="565.80" cy="129.80" r="2.4" fill="none" stroke="#FB8414" stroke-width="1.05"/>
<circle cx="568.07" cy="129.80" r="2.4" fill="none" stroke="#FB8414" stroke-width="1.05"/>
<circle cx="570.33" cy="129.80" r="2.4" fill="none" stroke="#FB8414" stroke-width="1.05"/>
<circle cx="572.60" cy="129.80" r="2.4" fill="none" stroke="#FB8414" stroke-width="1.05"/>
<circle cx="545.40" cy="132.30" r="2.4" fill="none" stroke="#FB8414" stroke-width="1.05"/>
<circle cx="547.71" cy="132.30" r="2.4" fill="none" stroke="#FB8414" stroke-width="1.05"/>
<circle cx="550.02" cy="132.30" r="2.4" fill="none" stroke="#FB8414" stroke-width="1.05"/>
<circle cx="552.33" cy="132.30" r="2.4" fill="none" stroke="#FB8414" stroke-width="1.05"/>
<circle cx="554.63" cy="132.30" r="2.4" fill="none" stroke="#FB8414" stroke-width="1.05"/>
<circle cx="556.94" cy="132.30" r="2.4" fill="none" stroke="#FB8414" stroke-width="1.05"/>
<circle cx="559.25" cy="132.30" r="2.4" fill="none" stroke="#FB8414" stroke-width="1.05"/>
<circle cx="561.56" cy="132.30" r="2.4" fill="none" stroke="#FB8414" stroke-width="1.05"/>
<circle cx="563.87" cy="132.30" r="2.4" fill="none" stroke="#FB8414" stroke-width="1.05"/>
<circle cx="566.17" cy="132.30" r="2.4" fill="none" stroke="#FB8414" stroke-width="1.05"/>
<circle cx="568.48" cy="132.30" r="2.4" fill="none" stroke="#FB8414" stroke-width="1.05"/>
<circle cx="570.79" cy="132.30" r="2.4" fill="none" stroke="#FB8414" stroke-width="1.05"/>
<circle cx="573.10" cy="132.30" r="2.4" fill="none" stroke="#FB8414" stroke-width="1.05"/>
<path d="M605.00,128.50 L634.00,128.50 L634.00,133.00 L605.00,133.00 Z" fill="#4F95E8"/>
<circle cx="619.70" cy="104.90" r="2.4" fill="none" stroke="#4F95E8" stroke-width="1.0"/>
<circle cx="619.70" cy="112.10" r="2.4" fill="none" stroke="#4F95E8" stroke-width="1.0"/>
<circle cx="619.70" cy="118.80" r="2.5" fill="none" stroke="#4F95E8" stroke-width="1.5"/>
<circle cx="619.70" cy="121.50" r="2.5" fill="none" stroke="#4F95E8" stroke-width="1.5"/>
<rect x="618" y="118" width="3.4" height="6" fill="#4F95E8"/>
<circle cx="605.70" cy="128.60" r="2.5" fill="none" stroke="#4F95E8" stroke-width="1.2"/>
<circle cx="608.29" cy="128.60" r="2.5" fill="none" stroke="#4F95E8" stroke-width="1.2"/>
<circle cx="610.88" cy="128.60" r="2.5" fill="none" stroke="#4F95E8" stroke-width="1.2"/>
<circle cx="613.47" cy="128.60" r="2.5" fill="none" stroke="#4F95E8" stroke-width="1.2"/>
<circle cx="616.06" cy="128.60" r="2.5" fill="none" stroke="#4F95E8" stroke-width="1.2"/>
<circle cx="618.65" cy="128.60" r="2.5" fill="none" stroke="#4F95E8" stroke-width="1.2"/>
<circle cx="621.25" cy="128.60" r="2.5" fill="none" stroke="#4F95E8" stroke-width="1.2"/>
<circle cx="623.84" cy="128.60" r="2.5" fill="none" stroke="#4F95E8" stroke-width="1.2"/>
<circle cx="626.43" cy="128.60" r="2.5" fill="none" stroke="#4F95E8" stroke-width="1.2"/>
<circle cx="629.02" cy="128.60" r="2.5" fill="none" stroke="#4F95E8" stroke-width="1.2"/>
<circle cx="631.61" cy="128.60" r="2.5" fill="none" stroke="#4F95E8" stroke-width="1.2"/>
<circle cx="634.20" cy="128.60" r="2.5" fill="none" stroke="#4F95E8" stroke-width="1.2"/>
<circle cx="607.00" cy="130.30" r="2.5" fill="none" stroke="#4F95E8" stroke-width="1.2"/>
<circle cx="609.60" cy="130.30" r="2.5" fill="none" stroke="#4F95E8" stroke-width="1.2"/>
<circle cx="612.20" cy="130.30" r="2.5" fill="none" stroke="#4F95E8" stroke-width="1.2"/>
<circle cx="614.80" cy="130.30" r="2.5" fill="none" stroke="#4F95E8" stroke-width="1.2"/>
<circle cx="617.40" cy="130.30" r="2.5" fill="none" stroke="#4F95E8" stroke-width="1.2"/>
<circle cx="620.00" cy="130.30" r="2.5" fill="none" stroke="#4F95E8" stroke-width="1.2"/>
<circle cx="622.60" cy="130.30" r="2.5" fill="none" stroke="#4F95E8" stroke-width="1.2"/>
<circle cx="625.20" cy="130.30" r="2.5" fill="none" stroke="#4F95E8" stroke-width="1.2"/>
<circle cx="627.80" cy="130.30" r="2.5" fill="none" stroke="#4F95E8" stroke-width="1.2"/>
<circle cx="630.40" cy="130.30" r="2.5" fill="none" stroke="#4F95E8" stroke-width="1.2"/>
<circle cx="633.00" cy="130.30" r="2.5" fill="none" stroke="#4F95E8" stroke-width="1.2"/>
<circle cx="605.70" cy="132.20" r="2.5" fill="none" stroke="#4F95E8" stroke-width="1.2"/>
<circle cx="608.29" cy="132.20" r="2.5" fill="none" stroke="#4F95E8" stroke-width="1.2"/>
<circle cx="610.88" cy="132.20" r="2.5" fill="none" stroke="#4F95E8" stroke-width="1.2"/>
<circle cx="613.47" cy="132.20" r="2.5" fill="none" stroke="#4F95E8" stroke-width="1.2"/>
<circle cx="616.06" cy="132.20" r="2.5" fill="none" stroke="#4F95E8" stroke-width="1.2"/>
<circle cx="618.65" cy="132.20" r="2.5" fill="none" stroke="#4F95E8" stroke-width="1.2"/>
<circle cx="621.25" cy="132.20" r="2.5" fill="none" stroke="#4F95E8" stroke-width="1.2"/>
<circle cx="623.84" cy="132.20" r="2.5" fill="none" stroke="#4F95E8" stroke-width="1.2"/>
<circle cx="626.43" cy="132.20" r="2.5" fill="none" stroke="#4F95E8" stroke-width="1.2"/>
<circle cx="629.02" cy="132.20" r="2.5" fill="none" stroke="#4F95E8" stroke-width="1.2"/>
<circle cx="631.61" cy="132.20" r="2.5" fill="none" stroke="#4F95E8" stroke-width="1.2"/>
<circle cx="634.20" cy="132.20" r="2.5" fill="none" stroke="#4F95E8" stroke-width="1.2"/>
<circle cx="663.30" cy="47.00" r="2.4" fill="none" stroke="#4F95E8" stroke-width="1.0"/>
<circle cx="663.30" cy="73.70" r="2.4" fill="none" stroke="#4F95E8" stroke-width="1.0"/>
<circle cx="663.30" cy="79.90" r="2.4" fill="none" stroke="#4F95E8" stroke-width="1.0"/>
<circle cx="663.30" cy="86.10" r="2.4" fill="none" stroke="#4F95E8" stroke-width="1.0"/>
<circle cx="663.30" cy="92.70" r="2.4" fill="none" stroke="#4F95E8" stroke-width="1.0"/>
<circle cx="663.30" cy="98.90" r="2.4" fill="none" stroke="#4F95E8" stroke-width="1.0"/>
<circle cx="663.30" cy="106.10" r="2.4" fill="none" stroke="#4F95E8" stroke-width="1.0"/>
<circle cx="663.30" cy="111.40" r="2.4" fill="none" stroke="#4F95E8" stroke-width="1.0"/>
<circle cx="663.3" cy="118" r="4.2" fill="#4F95E8"/>
<line x1="655.40" y1="122.90" x2="671.90" y2="122.90" stroke="#9cc3f2" stroke-width="1.2" />
<path d="M650.00,128.50 L677.00,128.50 L677.00,133.00 L650.00,133.00 Z" fill="#4F95E8"/>
<circle cx="662.00" cy="121.50" r="2.5" fill="none" stroke="#4F95E8" stroke-width="1.2"/>
<circle cx="664.50" cy="121.50" r="2.5" fill="none" stroke="#4F95E8" stroke-width="1.2"/>
<circle cx="649.50" cy="128.50" r="2.5" fill="none" stroke="#4F95E8" stroke-width="1.2"/>
<circle cx="652.03" cy="128.50" r="2.5" fill="none" stroke="#4F95E8" stroke-width="1.2"/>
<circle cx="654.55" cy="128.50" r="2.5" fill="none" stroke="#4F95E8" stroke-width="1.2"/>
<circle cx="657.08" cy="128.50" r="2.5" fill="none" stroke="#4F95E8" stroke-width="1.2"/>
<circle cx="659.61" cy="128.50" r="2.5" fill="none" stroke="#4F95E8" stroke-width="1.2"/>
<circle cx="662.14" cy="128.50" r="2.5" fill="none" stroke="#4F95E8" stroke-width="1.2"/>
<circle cx="664.66" cy="128.50" r="2.5" fill="none" stroke="#4F95E8" stroke-width="1.2"/>
<circle cx="667.19" cy="128.50" r="2.5" fill="none" stroke="#4F95E8" stroke-width="1.2"/>
<circle cx="669.72" cy="128.50" r="2.5" fill="none" stroke="#4F95E8" stroke-width="1.2"/>
<circle cx="672.25" cy="128.50" r="2.5" fill="none" stroke="#4F95E8" stroke-width="1.2"/>
<circle cx="674.77" cy="128.50" r="2.5" fill="none" stroke="#4F95E8" stroke-width="1.2"/>
<circle cx="677.30" cy="128.50" r="2.5" fill="none" stroke="#4F95E8" stroke-width="1.2"/>
<circle cx="650.80" cy="130.20" r="2.5" fill="none" stroke="#4F95E8" stroke-width="1.2"/>
<circle cx="653.32" cy="130.20" r="2.5" fill="none" stroke="#4F95E8" stroke-width="1.2"/>
<circle cx="655.84" cy="130.20" r="2.5" fill="none" stroke="#4F95E8" stroke-width="1.2"/>
<circle cx="658.36" cy="130.20" r="2.5" fill="none" stroke="#4F95E8" stroke-width="1.2"/>
<circle cx="660.88" cy="130.20" r="2.5" fill="none" stroke="#4F95E8" stroke-width="1.2"/>
<circle cx="663.40" cy="130.20" r="2.5" fill="none" stroke="#4F95E8" stroke-width="1.2"/>
<circle cx="665.92" cy="130.20" r="2.5" fill="none" stroke="#4F95E8" stroke-width="1.2"/>
<circle cx="668.44" cy="130.20" r="2.5" fill="none" stroke="#4F95E8" stroke-width="1.2"/>
<circle cx="670.96" cy="130.20" r="2.5" fill="none" stroke="#4F95E8" stroke-width="1.2"/>
<circle cx="673.48" cy="130.20" r="2.5" fill="none" stroke="#4F95E8" stroke-width="1.2"/>
<circle cx="676.00" cy="130.20" r="2.5" fill="none" stroke="#4F95E8" stroke-width="1.2"/>
<circle cx="649.50" cy="132.20" r="2.5" fill="none" stroke="#4F95E8" stroke-width="1.2"/>
<circle cx="652.03" cy="132.20" r="2.5" fill="none" stroke="#4F95E8" stroke-width="1.2"/>
<circle cx="654.55" cy="132.20" r="2.5" fill="none" stroke="#4F95E8" stroke-width="1.2"/>
<circle cx="657.08" cy="132.20" r="2.5" fill="none" stroke="#4F95E8" stroke-width="1.2"/>
<circle cx="659.61" cy="132.20" r="2.5" fill="none" stroke="#4F95E8" stroke-width="1.2"/>
<circle cx="662.14" cy="132.20" r="2.5" fill="none" stroke="#4F95E8" stroke-width="1.2"/>
<circle cx="664.66" cy="132.20" r="2.5" fill="none" stroke="#4F95E8" stroke-width="1.2"/>
<circle cx="667.19" cy="132.20" r="2.5" fill="none" stroke="#4F95E8" stroke-width="1.2"/>
<circle cx="669.72" cy="132.20" r="2.5" fill="none" stroke="#4F95E8" stroke-width="1.2"/>
<circle cx="672.25" cy="132.20" r="2.5" fill="none" stroke="#4F95E8" stroke-width="1.2"/>
<circle cx="674.77" cy="132.20" r="2.5" fill="none" stroke="#4F95E8" stroke-width="1.2"/>
<circle cx="677.30" cy="132.20" r="2.5" fill="none" stroke="#4F95E8" stroke-width="1.2"/>
<text x="517.2" y="150.1" font-size="9.15" text-anchor="end" fill="#1e1e1e" transform="rotate(-45 517.2 150.1)">Baseline</text>
<text x="566.2" y="149.1" font-size="9.15" text-anchor="end" fill="#1e1e1e" transform="rotate(-45 566.2 149.1)">Post-reatment</text>
<text x="623.1" y="151.6" font-size="9.15" text-anchor="end" fill="#1e1e1e" transform="rotate(-45 623.1 151.6)">Baseline</text>
<text x="672.3" y="148.4" font-size="9.15" text-anchor="end" fill="#1e1e1e" transform="rotate(-45 672.3 148.4)">Post-reatment</text>
<text x="1.50" y="221.30" font-size="15.2" text-anchor="start" font-weight="bold" fill="#000" >d</text>
<line x1="32.40" y1="232.00" x2="32.40" y2="349.50" stroke="#2b2b2b" stroke-width="1" />
<line x1="28.90" y1="349.00" x2="209.80" y2="349.00" stroke="#2b2b2b" stroke-width="1" />
<line x1="28.40" y1="349.00" x2="32.40" y2="349.00" stroke="#2b2b2b" stroke-width="1" />
<text x="23.80" y="352.10" font-size="8.2" text-anchor="end" font-weight="normal" fill="#1e1e1e" >0</text>
<line x1="28.40" y1="319.75" x2="32.40" y2="319.75" stroke="#2b2b2b" stroke-width="1" />
<text x="25.00" y="322.85" font-size="8.2" text-anchor="end" font-weight="normal" fill="#1e1e1e" >50</text>
<line x1="28.40" y1="290.50" x2="32.40" y2="290.50" stroke="#2b2b2b" stroke-width="1" />
<text x="25.60" y="293.60" font-size="8.2" text-anchor="end" font-weight="normal" fill="#1e1e1e" >100</text>
<line x1="28.40" y1="261.25" x2="32.40" y2="261.25" stroke="#2b2b2b" stroke-width="1" />
<text x="25.60" y="264.35" font-size="8.2" text-anchor="end" font-weight="normal" fill="#1e1e1e" >150</text>
<line x1="28.40" y1="232.00" x2="32.40" y2="232.00" stroke="#2b2b2b" stroke-width="1" />
<text x="25.60" y="235.10" font-size="8.2" text-anchor="end" font-weight="normal" fill="#1e1e1e" >200</text>
<line x1="47.30" y1="349.00" x2="47.30" y2="353.50" stroke="#2b2b2b" stroke-width="1" />
<line x1="194.60" y1="349.00" x2="194.60" y2="353.50" stroke="#2b2b2b" stroke-width="1" />
<text x="9.60" y="289.00" font-size="9.5" text-anchor="middle" fill="#1e1e1e" transform="rotate(-90 9.60 289.00)">ECD sPD-1(ng/ml)</text>
<text x="38.75" y="225.00" font-size="10.2" text-anchor="start" font-weight="bold" fill="#1e1e1e" >Responders: ECD sPD-1</text>
<text x="52.00" y="362.90" font-size="9.1" text-anchor="middle" font-weight="normal" fill="#1e1e1e" >Baseline</text>
<text x="180.60" y="362.90" font-size="9.1" text-anchor="middle" font-weight="normal" fill="#1e1e1e" >Post treatment</text>
<line x1="47.30" y1="347.25" x2="194.60" y2="243.70" stroke="#d5d5d5" stroke-width="0.9" />
<line x1="47.30" y1="346.07" x2="194.60" y2="254.52" stroke="#d5d5d5" stroke-width="0.9" />
<line x1="47.30" y1="347.83" x2="194.60" y2="263.82" stroke="#d5d5d5" stroke-width="0.9" />
<line x1="47.30" y1="345.49" x2="194.60" y2="275.47" stroke="#d5d5d5" stroke-width="0.9" />
<line x1="47.30" y1="346.66" x2="194.60" y2="276.17" stroke="#d5d5d5" stroke-width="0.9" />
<line x1="47.30" y1="344.32" x2="194.60" y2="296.94" stroke="#d5d5d5" stroke-width="0.9" />
<line x1="47.30" y1="348.42" x2="194.60" y2="309.22" stroke="#d5d5d5" stroke-width="0.9" />
<line x1="47.30" y1="344.90" x2="194.60" y2="309.81" stroke="#d5d5d5" stroke-width="0.9" />
<line x1="47.30" y1="343.15" x2="194.60" y2="320.33" stroke="#d5d5d5" stroke-width="0.9" />
<line x1="47.30" y1="346.66" x2="194.60" y2="321.80" stroke="#d5d5d5" stroke-width="0.9" />
<line x1="47.30" y1="349.00" x2="194.60" y2="323.26" stroke="#d5d5d5" stroke-width="0.9" />
<line x1="47.30" y1="341.98" x2="194.60" y2="324.72" stroke="#d5d5d5" stroke-width="0.9" />
<line x1="47.30" y1="343.74" x2="194.60" y2="326.48" stroke="#d5d5d5" stroke-width="0.9" />
<line x1="47.30" y1="335.55" x2="194.60" y2="327.94" stroke="#d5d5d5" stroke-width="0.9" />
<line x1="47.30" y1="347.83" x2="194.60" y2="328.52" stroke="#d5d5d5" stroke-width="0.9" />
<line x1="47.30" y1="346.07" x2="194.60" y2="333.20" stroke="#d5d5d5" stroke-width="0.9" />
<line x1="47.30" y1="342.56" x2="194.60" y2="335.25" stroke="#d5d5d5" stroke-width="0.9" />
<line x1="47.30" y1="347.25" x2="194.60" y2="337.01" stroke="#d5d5d5" stroke-width="0.9" />
<line x1="47.30" y1="349.00" x2="194.60" y2="343.15" stroke="#d5d5d5" stroke-width="0.9" />
<circle cx="47.30" cy="347.25" r="2.4" fill="none" stroke="#FB8414" stroke-width="1.0"/>
<circle cx="47.30" cy="346.07" r="2.4" fill="none" stroke="#FB8414" stroke-width="1.0"/>
<circle cx="47.30" cy="347.83" r="2.4" fill="none" stroke="#FB8414" stroke-width="1.0"/>
<circle cx="47.30" cy="345.49" r="2.4" fill="none" stroke="#FB8414" stroke-width="1.0"/>
<circle cx="47.30" cy="346.66" r="2.4" fill="none" stroke="#FB8414" stroke-width="1.0"/>
<circle cx="47.30" cy="344.32" r="2.4" fill="none" stroke="#FB8414" stroke-width="1.0"/>
<circle cx="47.30" cy="348.42" r="2.4" fill="none" stroke="#FB8414" stroke-width="1.0"/>
<circle cx="47.30" cy="344.90" r="2.4" fill="none" stroke="#FB8414" stroke-width="1.0"/>
<circle cx="47.30" cy="343.15" r="2.4" fill="none" stroke="#FB8414" stroke-width="1.0"/>
<circle cx="47.30" cy="346.66" r="2.4" fill="none" stroke="#FB8414" stroke-width="1.0"/>
<circle cx="47.30" cy="349.00" r="2.4" fill="none" stroke="#FB8414" stroke-width="1.0"/>
<circle cx="47.30" cy="341.98" r="2.4" fill="none" stroke="#FB8414" stroke-width="1.0"/>
<circle cx="47.30" cy="343.74" r="2.4" fill="none" stroke="#FB8414" stroke-width="1.0"/>
<circle cx="47.30" cy="335.55" r="2.4" fill="none" stroke="#FB8414" stroke-width="1.0"/>
<circle cx="47.30" cy="347.83" r="2.4" fill="none" stroke="#FB8414" stroke-width="1.0"/>
<circle cx="47.30" cy="346.07" r="2.4" fill="none" stroke="#FB8414" stroke-width="1.0"/>
<circle cx="47.30" cy="342.56" r="2.4" fill="none" stroke="#FB8414" stroke-width="1.0"/>
<circle cx="47.30" cy="347.25" r="2.4" fill="none" stroke="#FB8414" stroke-width="1.0"/>
<circle cx="47.30" cy="349.00" r="2.4" fill="none" stroke="#FB8414" stroke-width="1.0"/>
<circle cx="194.60" cy="243.70" r="2.5" fill="none" stroke="#FB8414" stroke-width="1.1"/>
<circle cx="194.60" cy="254.52" r="2.5" fill="none" stroke="#FB8414" stroke-width="1.1"/>
<circle cx="194.60" cy="263.82" r="2.5" fill="none" stroke="#FB8414" stroke-width="1.1"/>
<circle cx="194.60" cy="275.47" r="2.5" fill="none" stroke="#FB8414" stroke-width="1.1"/>
<circle cx="194.60" cy="276.17" r="2.5" fill="none" stroke="#FB8414" stroke-width="1.1"/>
<circle cx="194.60" cy="296.94" r="2.5" fill="none" stroke="#FB8414" stroke-width="1.1"/>
<circle cx="194.60" cy="309.22" r="2.5" fill="none" stroke="#FB8414" stroke-width="1.1"/>
<circle cx="194.60" cy="309.81" r="2.5" fill="none" stroke="#FB8414" stroke-width="1.1"/>
<circle cx="194.60" cy="320.33" r="2.5" fill="none" stroke="#FB8414" stroke-width="1.1"/>
<circle cx="194.60" cy="321.80" r="2.5" fill="none" stroke="#FB8414" stroke-width="1.1"/>
<circle cx="194.60" cy="323.26" r="2.5" fill="none" stroke="#FB8414" stroke-width="1.1"/>
<circle cx="194.60" cy="324.72" r="2.5" fill="none" stroke="#FB8414" stroke-width="1.1"/>
<circle cx="194.60" cy="326.48" r="2.5" fill="none" stroke="#FB8414" stroke-width="1.1"/>
<circle cx="194.60" cy="327.94" r="2.5" fill="none" stroke="#FB8414" stroke-width="1.1"/>
<circle cx="194.60" cy="328.52" r="2.5" fill="none" stroke="#FB8414" stroke-width="1.1"/>
<circle cx="194.60" cy="333.20" r="2.5" fill="none" stroke="#FB8414" stroke-width="1.1"/>
<circle cx="194.60" cy="335.25" r="2.5" fill="none" stroke="#FB8414" stroke-width="1.1"/>
<circle cx="194.60" cy="337.01" r="2.5" fill="none" stroke="#FB8414" stroke-width="1.1"/>
<circle cx="194.60" cy="343.15" r="2.5" fill="none" stroke="#FB8414" stroke-width="1.1"/>
<text x="225.70" y="218.10" font-size="15.2" text-anchor="start" font-weight="bold" fill="#000" >e</text>
<line x1="267.40" y1="230.90" x2="267.40" y2="346.90" stroke="#2b2b2b" stroke-width="1" />
<line x1="263.90" y1="346.40" x2="441.75" y2="346.40" stroke="#2b2b2b" stroke-width="1" />
<line x1="263.40" y1="346.40" x2="267.40" y2="346.40" stroke="#2b2b2b" stroke-width="1" />
<text x="258.80" y="349.50" font-size="8.2" text-anchor="end" font-weight="normal" fill="#1e1e1e" >0</text>
<line x1="263.40" y1="317.52" x2="267.40" y2="317.52" stroke="#2b2b2b" stroke-width="1" />
<text x="260.00" y="320.62" font-size="8.2" text-anchor="end" font-weight="normal" fill="#1e1e1e" >50</text>
<line x1="263.40" y1="288.65" x2="267.40" y2="288.65" stroke="#2b2b2b" stroke-width="1" />
<text x="260.60" y="291.75" font-size="8.2" text-anchor="end" font-weight="normal" fill="#1e1e1e" >100</text>
<line x1="263.40" y1="259.77" x2="267.40" y2="259.77" stroke="#2b2b2b" stroke-width="1" />
<text x="260.60" y="262.88" font-size="8.2" text-anchor="end" font-weight="normal" fill="#1e1e1e" >150</text>
<line x1="263.40" y1="230.90" x2="267.40" y2="230.90" stroke="#2b2b2b" stroke-width="1" />
<text x="260.60" y="234.00" font-size="8.2" text-anchor="end" font-weight="normal" fill="#1e1e1e" >200</text>
<line x1="281.70" y1="346.40" x2="281.70" y2="350.90" stroke="#2b2b2b" stroke-width="1" />
<line x1="426.80" y1="346.40" x2="426.80" y2="350.90" stroke="#2b2b2b" stroke-width="1" />
<text x="244.40" y="281.90" font-size="8.9" text-anchor="middle" fill="#1e1e1e" transform="rotate(-90 244.40 281.90)">FL sPD-1 (ng/ml)</text>
<text x="279.25" y="232.00" font-size="10.2" text-anchor="start" font-weight="bold" fill="#1e1e1e" >Responders: FL sPD-1</text>
<text x="286.00" y="359.00" font-size="9.1" text-anchor="middle" font-weight="normal" fill="#1e1e1e" >Baseline</text>
<text x="414.60" y="359.00" font-size="9.1" text-anchor="middle" font-weight="normal" fill="#1e1e1e" >Post treatment</text>
<line x1="281.70" y1="336.87" x2="426.80" y2="295.00" stroke="#d5d5d5" stroke-width="0.9" />
<line x1="281.70" y1="336.87" x2="426.80" y2="307.71" stroke="#d5d5d5" stroke-width="0.9" />
<line x1="281.70" y1="336.87" x2="426.80" y2="313.48" stroke="#d5d5d5" stroke-width="0.9" />
<line x1="281.70" y1="342.94" x2="426.80" y2="320.41" stroke="#d5d5d5" stroke-width="0.9" />
<line x1="281.70" y1="343.80" x2="426.80" y2="327.34" stroke="#d5d5d5" stroke-width="0.9" />
<line x1="281.70" y1="344.67" x2="426.80" y2="329.07" stroke="#d5d5d5" stroke-width="0.9" />
<line x1="281.70" y1="345.25" x2="426.80" y2="333.12" stroke="#d5d5d5" stroke-width="0.9" />
<line x1="281.70" y1="345.82" x2="426.80" y2="334.27" stroke="#d5d5d5" stroke-width="0.9" />
<circle cx="281.70" cy="336.87" r="2.4" fill="none" stroke="#4F95E8" stroke-width="1.4"/>
<circle cx="281.70" cy="341.78" r="2.4" fill="none" stroke="#4F95E8" stroke-width="1.2"/>
<circle cx="281.70" cy="342.94" r="2.4" fill="none" stroke="#4F95E8" stroke-width="1.2"/>
<circle cx="281.70" cy="344.09" r="2.4" fill="none" stroke="#4F95E8" stroke-width="1.2"/>
<circle cx="281.70" cy="344.96" r="2.4" fill="none" stroke="#4F95E8" stroke-width="1.2"/>
<rect x="280.2" y="341.78" width="3" height="3.18" fill="#4F95E8"/>
<circle cx="426.80" cy="295.00" r="2.5" fill="none" stroke="#4F95E8" stroke-width="1.1"/>
<circle cx="426.80" cy="307.71" r="2.5" fill="none" stroke="#4F95E8" stroke-width="1.1"/>
<circle cx="426.80" cy="313.48" r="2.5" fill="none" stroke="#4F95E8" stroke-width="1.1"/>
<circle cx="426.80" cy="320.41" r="2.5" fill="none" stroke="#4F95E8" stroke-width="1.1"/>
<circle cx="426.80" cy="327.34" r="2.5" fill="none" stroke="#4F95E8" stroke-width="1.1"/>
<circle cx="426.80" cy="329.07" r="2.5" fill="none" stroke="#4F95E8" stroke-width="1.1"/>
<circle cx="426.80" cy="333.12" r="2.5" fill="none" stroke="#4F95E8" stroke-width="1.1"/>
<circle cx="426.80" cy="334.27" r="2.5" fill="none" stroke="#4F95E8" stroke-width="1.1"/>
<text x="477.20" y="222.50" font-size="15.2" text-anchor="start" font-weight="bold" fill="#000" >f</text>
<line x1="508.30" y1="231.80" x2="508.30" y2="347.50" stroke="#2b2b2b" stroke-width="1" />
<line x1="504.80" y1="347.00" x2="682.30" y2="347.00" stroke="#2b2b2b" stroke-width="1" />
<line x1="504.30" y1="347.00" x2="508.30" y2="347.00" stroke="#2b2b2b" stroke-width="1" />
<text x="499.70" y="350.10" font-size="8.2" text-anchor="end" font-weight="normal" fill="#1e1e1e" >0</text>
<line x1="504.30" y1="318.20" x2="508.30" y2="318.20" stroke="#2b2b2b" stroke-width="1" />
<text x="500.90" y="321.30" font-size="8.2" text-anchor="end" font-weight="normal" fill="#1e1e1e" >50</text>
<line x1="504.30" y1="289.40" x2="508.30" y2="289.40" stroke="#2b2b2b" stroke-width="1" />
<text x="501.50" y="292.50" font-size="8.2" text-anchor="end" font-weight="normal" fill="#1e1e1e" >100</text>
<line x1="504.30" y1="260.60" x2="508.30" y2="260.60" stroke="#2b2b2b" stroke-width="1" />
<text x="501.50" y="263.70" font-size="8.2" text-anchor="end" font-weight="normal" fill="#1e1e1e" >150</text>
<line x1="504.30" y1="231.80" x2="508.30" y2="231.80" stroke="#2b2b2b" stroke-width="1" />
<text x="501.50" y="234.90" font-size="8.2" text-anchor="end" font-weight="normal" fill="#1e1e1e" >200</text>
<line x1="522.30" y1="347.00" x2="522.30" y2="351.50" stroke="#2b2b2b" stroke-width="1" />
<line x1="667.80" y1="347.00" x2="667.80" y2="351.50" stroke="#2b2b2b" stroke-width="1" />
<text x="486.80" y="285.60" font-size="9.0" text-anchor="middle" fill="#1e1e1e" transform="rotate(-90 486.80 285.60)">sPD-1(ng/ml)</text>
<text x="516.00" y="230.50" font-size="10.2" text-anchor="start" font-weight="bold" fill="#1e1e1e" >Non-responders</text>
<line x1="524.20" y1="240.50" x2="536.80" y2="240.50" stroke="#FB8414" stroke-width="1" />
<circle cx="530.50" cy="240.50" r="2.3" fill="none" stroke="#FB8414" stroke-width="0.9"/>
<text x="543.75" y="243.20" font-size="7.6" text-anchor="start" font-weight="normal" fill="#1e1e1e" >ECD sPD-1</text>
<line x1="524.20" y1="252.00" x2="536.80" y2="252.00" stroke="#4F95E8" stroke-width="1" />
<circle cx="530.50" cy="252.00" r="2.3" fill="none" stroke="#4F95E8" stroke-width="0.9"/>
<text x="543.75" y="254.70" font-size="7.6" text-anchor="start" font-weight="normal" fill="#1e1e1e" >FL sPD-1</text>
<text x="528.00" y="359.00" font-size="9.1" text-anchor="middle" font-weight="normal" fill="#1e1e1e" >Baseline</text>
<text x="655.00" y="359.00" font-size="9.1" text-anchor="middle" font-weight="normal" fill="#1e1e1e" >Post treatment</text>
<line x1="522.30" y1="344.00" x2="667.80" y2="263.20" stroke="#4F95E8" stroke-width="1" />
<line x1="522.30" y1="343.50" x2="667.80" y2="289.60" stroke="#4F95E8" stroke-width="1" />
<line x1="522.30" y1="341.60" x2="667.80" y2="301.70" stroke="#4F95E8" stroke-width="1" />
<line x1="522.30" y1="345.50" x2="667.80" y2="314.10" stroke="#4F95E8" stroke-width="1" />
<line x1="522.30" y1="341.00" x2="667.80" y2="330.50" stroke="#4F95E8" stroke-width="1" />
<line x1="522.30" y1="333.50" x2="667.80" y2="332.00" stroke="#FB8414" stroke-width="1.3" />
<line x1="522.30" y1="344.00" x2="667.80" y2="325.10" stroke="#FB8414" stroke-width="1.3" />
<line x1="522.30" y1="338.40" x2="667.80" y2="338.10" stroke="#FB8414" stroke-width="1.3" />
<line x1="522.30" y1="346.00" x2="667.80" y2="344.70" stroke="#FB8414" stroke-width="1.3" />
<line x1="522.30" y1="346.30" x2="667.80" y2="346.30" stroke="#FB8414" stroke-width="1.3" />
<line x1="522.30" y1="345.00" x2="667.80" y2="325.60" stroke="#b07a50" stroke-width="0.8" />
<line x1="522.30" y1="346.50" x2="667.80" y2="346.50" stroke="#c06a20" stroke-width="1" />
<line x1="522.30" y1="342.50" x2="667.80" y2="342.00" stroke="#9a9aa8" stroke-width="1.1" />
<circle cx="667.80" cy="263.20" r="2.6" fill="none" stroke="#4F95E8" stroke-width="1.1"/>
<circle cx="667.80" cy="289.60" r="2.6" fill="none" stroke="#4F95E8" stroke-width="1.1"/>
<circle cx="667.80" cy="301.70" r="2.6" fill="none" stroke="#4F95E8" stroke-width="1.1"/>
<circle cx="667.80" cy="314.10" r="2.6" fill="none" stroke="#4F95E8" stroke-width="1.1"/>
<circle cx="667.80" cy="330.50" r="2.6" fill="none" stroke="#4F95E8" stroke-width="1.1"/>
<circle cx="667.80" cy="332.00" r="2.6" fill="none" stroke="#FB8414" stroke-width="1.1"/>
<circle cx="667.80" cy="325.10" r="2.6" fill="none" stroke="#FB8414" stroke-width="1.1"/>
<circle cx="667.80" cy="338.10" r="2.6" fill="none" stroke="#FB8414" stroke-width="1.1"/>
<circle cx="667.80" cy="344.70" r="2.6" fill="none" stroke="#FB8414" stroke-width="1.1"/>
<circle cx="667.80" cy="346.30" r="2.6" fill="none" stroke="#FB8414" stroke-width="1.1"/>
<circle cx="667.80" cy="341.90" r="2.6" fill="none" stroke="#8a8fa0" stroke-width="1.1"/>
<circle cx="522.30" cy="337.50" r="2.6" fill="none" stroke="#FB8414" stroke-width="1.2"/>
<circle cx="522.30" cy="340.00" r="2.6" fill="none" stroke="#FB8414" stroke-width="1.2"/>
<circle cx="522.30" cy="342.50" r="2.6" fill="none" stroke="#FB8414" stroke-width="1.2"/>
<circle cx="522.30" cy="345.00" r="2.6" fill="none" stroke="#FB8414" stroke-width="1.2"/>
<circle cx="522.30" cy="347.30" r="2.6" fill="none" stroke="#FB8414" stroke-width="1.2"/>
<circle cx="522.30" cy="333.50" r="2.6" fill="none" stroke="#FB8414" stroke-width="1.2"/>
</svg></body></html>
